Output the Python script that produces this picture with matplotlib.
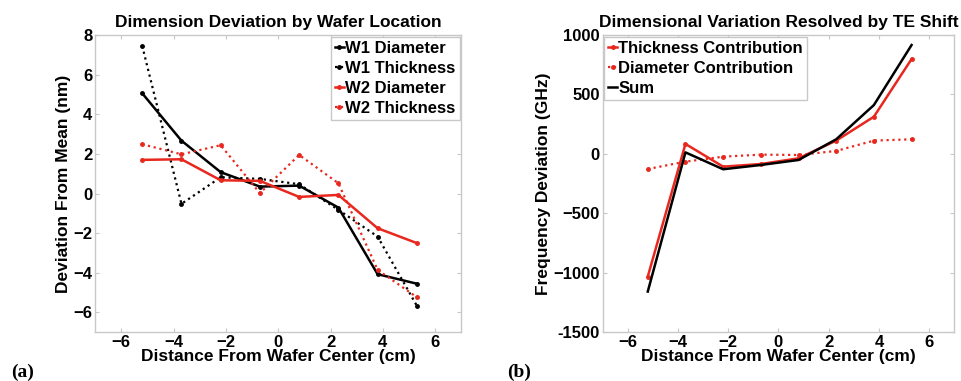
import numpy as np
import matplotlib
matplotlib.use("Agg")
from matplotlib import pyplot as plt

plt.rcParams['font.family'] = ['Liberation Sans', 'DejaVu Sans']
plt.rcParams['font.weight'] = 'bold'

# positions across the wafer (cm)
x = [-5.2, -3.7, -2.2, -0.7, 0.8, 2.3, 3.8, 5.3]

# panel (a): deviation from mean (nm)
w1_diameter = [5.06, 2.67, 1.08, 0.35, 0.40, -0.71, -4.07, -4.55]
w1_thickness = [7.45, -0.52, 0.82, 0.74, 0.47, -0.82, -2.17, -5.66]
w2_diameter = [1.70, 1.73, 0.67, 0.64, -0.17, -0.07, -1.75, -2.50]
w2_thickness = [2.49, 1.98, 2.44, 0.02, 1.95, 0.52, -3.85, -5.23]

# panel (b): frequency deviation (GHz)
thickness_contrib = [-1032, 84, -107, -85, -37, 112, 313, 798]
diameter_contrib = [-127, -65, -23, -6, -9, 25, 112, 123]
freq_sum = [-1158, 13, -129, -93, -51, 123, 411, 916]

RED = '#e8281e'
GRID = '#c8c8c8'

fig = plt.figure(figsize=(9.61, 3.81), dpi=100)
ax1 = fig.add_axes([0.099, 0.128, 0.381, 0.78])
ax2 = fig.add_axes([0.627, 0.128, 0.366, 0.78])

def style_axes(ax):
    for s in ax.spines.values():
        s.set_color(GRID)
        s.set_linewidth(1.0)
    ax.tick_params(direction='in', length=3, color=GRID, labelsize=12,
                   top=True, right=True, pad=2)
    for lab in ax.get_xticklabels() + ax.get_yticklabels():
        lab.set_fontweight('bold')

def style_legend(ax, loc):
    leg = ax.legend(loc=loc, handlelength=0.5, handletextpad=0.1,
                    borderpad=0.25, labelspacing=0.3, borderaxespad=0.1, fancybox=False,
                    framealpha=1, prop={'weight': 'bold', 'size': 12})
    leg.get_frame().set_edgecolor(GRID)
    leg.get_frame().set_linewidth(1.0)

ax1.plot(x, w1_diameter, '-', color='black', lw=1.8, marker='o', ms=2.5, label='W1 Diameter')
ax1.plot(x, w1_thickness, ':', color='black', lw=1.6, marker='o', ms=2.5, label='W1 Thickness')
ax1.plot(x, w2_diameter, '-', color=RED, lw=1.8, marker='o', ms=2.5, label='W2 Diameter')
ax1.plot(x, w2_thickness, ':', color=RED, lw=1.6, marker='o', ms=2.5, label='W2 Thickness')
ax1.set_xlim(-7, 7)
ax1.set_ylim(-7, 8)
ax1.set_xticks(np.arange(-6, 7, 2))
ax1.set_yticks(np.arange(-6, 9, 2))
ax1.set_xticklabels(['\u22126', '\u22124', '\u22122', '0', '2', '4', '6'])
ax1.set_yticklabels(['\u22126', '\u22124', '\u22122', '0', '2', '4', '6', '8'])
style_axes(ax1)
ax1.set_title('Dimension Deviation by Wafer Location', fontsize=12.5, fontweight='bold', pad=6)
ax1.set_xlabel('Distance From Wafer Center (cm)', fontsize=12.5, fontweight='bold', labelpad=-1)
ax1.set_ylabel('Deviation From Mean (nm)', fontsize=12.5, fontweight='bold', labelpad=2)
style_legend(ax1, 'upper right')

ax2.plot(x, thickness_contrib, '-', color=RED, lw=1.8, marker='o', ms=2.5, label='Thickness Contribution')
ax2.plot(x, diameter_contrib, ':', color=RED, lw=1.6, marker='o', ms=2.5, label='Diameter Contribution')
ax2.plot(x, freq_sum, '-', color='black', lw=1.8, label='Sum')
ax2.set_xlim(-7, 7)
ax2.set_ylim(-1500, 1000)
ax2.set_xticks(np.arange(-6, 7, 2))
ax2.set_yticks(np.arange(-1500, 1001, 500))
ax2.set_xticklabels(['\u22126', '\u22124', '\u22122', '0', '2', '4', '6'])
ax2.set_yticklabels(['-1500', '\u22121000', '\u2212500', '0', '500', '1000'])
style_axes(ax2)
ax2.set_title('Dimensional Variation Resolved by TE Shift', fontsize=12.5, fontweight='bold', pad=6)
ax2.set_xlabel('Distance From Wafer Center (cm)', fontsize=12.5, fontweight='bold', labelpad=-1)
ax2.set_ylabel('Frequency Deviation (GHz)', fontsize=12.5, fontweight='bold', labelpad=2)
style_legend(ax2, 'upper left')

fig.text(0.012, 0.01, '(a)', fontsize=14, fontweight='bold', family='Liberation Serif')
fig.text(0.528, 0.01, '(b)', fontsize=14, fontweight='bold', family='Liberation Serif')

fig.savefig('out.png', dpi=100, facecolor='white')
